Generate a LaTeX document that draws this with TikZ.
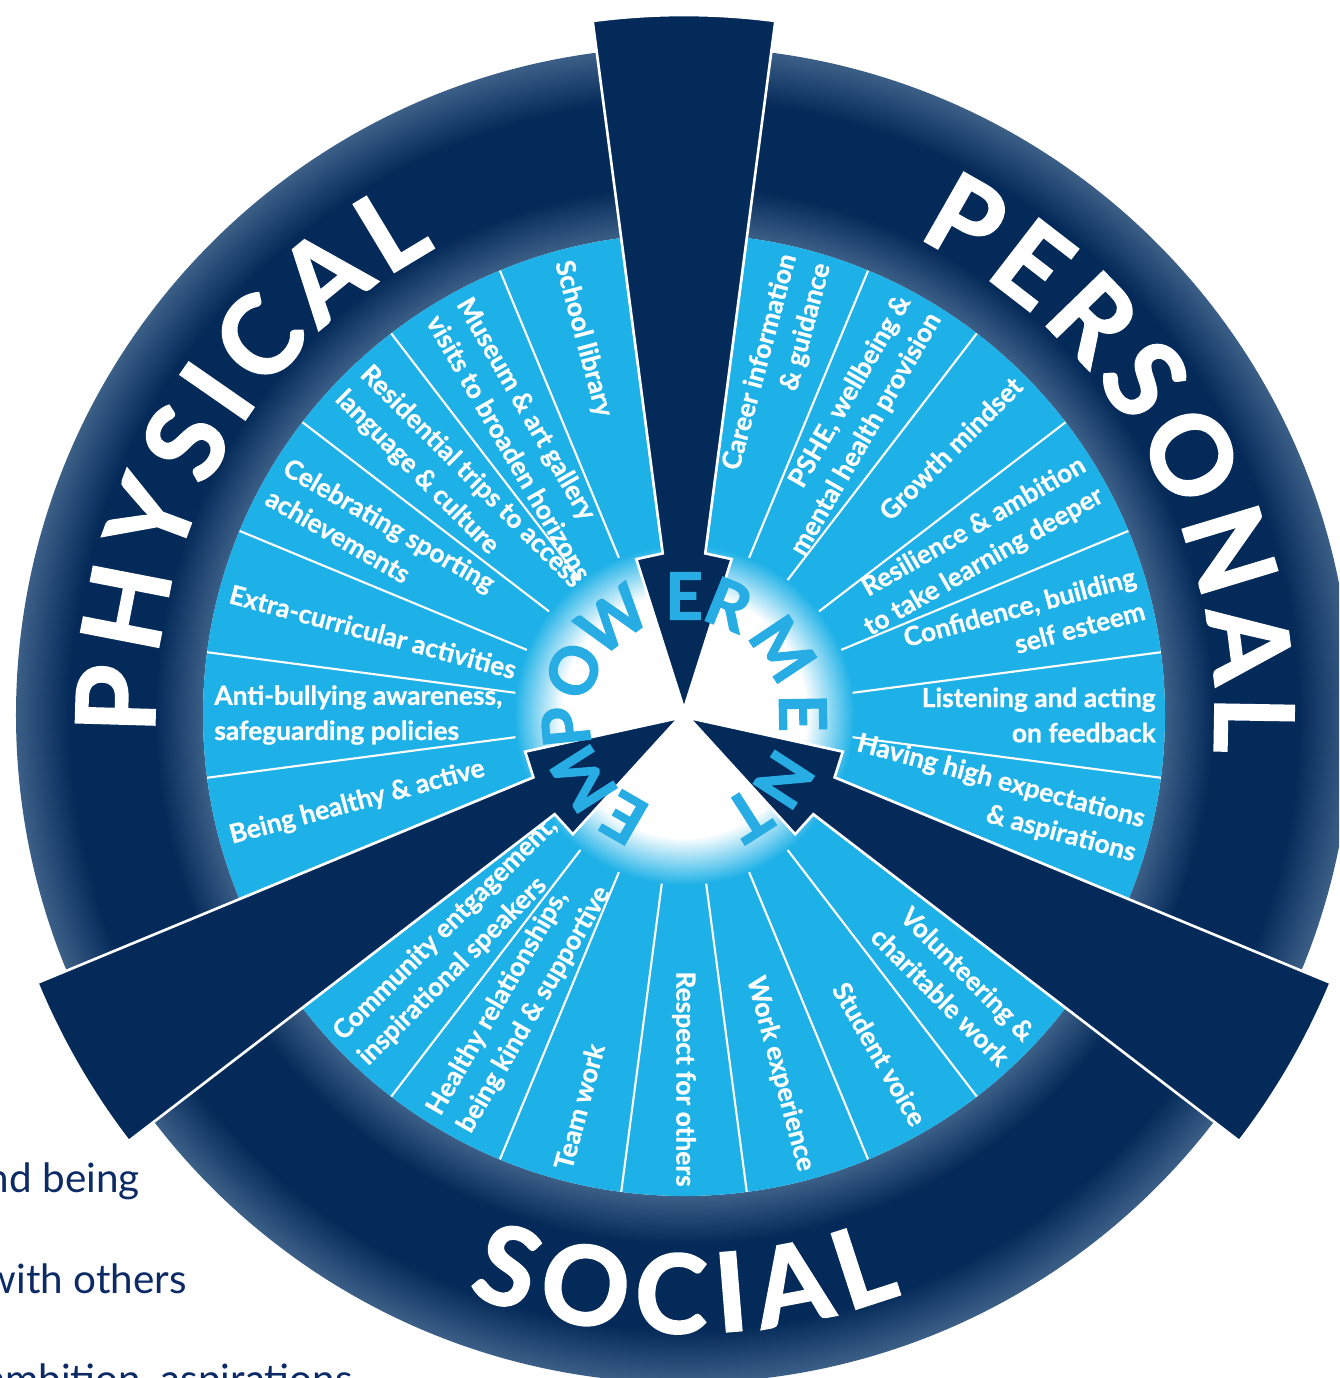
\documentclass[tikz,border=0pt]{standalone}
\usepackage{fontspec}
\setmainfont{Lato}
\newfontface\heavyface{Lato Bold}[FakeBold=2]
\newfontface\itemface{Lato Bold}[FakeBold=0.8]
\usetikzlibrary{decorations.text}
\definecolor{navy}{HTML}{042A59}
\definecolor{ringlight}{HTML}{3C5F87}
\definecolor{skyblue}{HTML}{1EB1E7}
\definecolor{letterblue}{HTML}{27ADE4}
\definecolor{textnavy}{HTML}{0B2A66}
\pgfdeclareradialshading{ringshade}{\pgfpoint{0bp}{0bp}}{color(0bp)=(ringlight); color(18bp)=(ringlight); color(19.8bp)=(navy); color(23bp)=(navy); color(25bp)=(ringlight); color(50bp)=(ringlight)}
\pgfdeclareradialshading{glowshade}{\pgfpoint{0bp}{0bp}}{color(0bp)=(white); color(18bp)=(white); color(25bp)=(skyblue); color(50bp)=(skyblue)}
\def\itemfont{\itemface\fontsize{15}{20}\selectfont}
\def\bigfont{\heavyface\fontsize{62}{62}\selectfont\color{white}}
\tikzset{
  sepline/.style={white, line width=1.2pt},
  item/.style={white, inner sep=0pt, font=\itemfont},
  itemin/.style={item, anchor=west, align=left, rotate=#1-180},
  itemout/.style={item, anchor=east, align=right, rotate=#1},
  pointer/.style={fill=navy, draw=white, line width=1.5pt, line join=miter},
  empletter/.style={letterblue, inner sep=0pt, font=\heavyface\fontsize{37}{37}\selectfont},
  behind/.style={textnavy, inner sep=0pt, anchor=base east, font=\fontsize{23}{23}\selectfont}
}

\begin{document}
\begin{tikzpicture}[x=0.02cm, y=0.02cm]
  %%%%% FRAME %%%%%
  \useasboundingbox (-684,-663) rectangle (655,715);
  \clip (-684,-663) rectangle (655,715);

  % page text behind the wheel
  \node[behind] (being) at (-544,-477) {nd being};
  \node[behind] (others) at (-497,-578) {with others};
  \node[behind] (ambition) at (-331,-678) {ambition, aspirations};

  %%%%% WHEEL %%%%%
  \shade[shading=ringshade, even odd rule] (0,0) circle (668) (0,0) circle (481);
  \fill[skyblue] (0,0) circle (481);
  \foreach \k in {0,...,23}
    \draw[sepline] ({97.5+15*\k}:165) -- ({97.5+15*\k}:481);
  \shade[shading=glowshade] (0,0) circle (170);

  % physical
  \node[itemin=105] (library) at (105:470) {School library};
  \node[itemin=120] (museum) at (120:470) {Museum \& art gallery\\visits to broaden horizons};
  \node[itemin=135] (trips) at (135:470) {Residential trips to access\\language \& culture};
  \node[itemin=150] (sport) at (150:470) {Celebrating sporting\\achievements};
  \node[itemin=165] (extra) at (165:470) {Extra-curricular activities};
  \node[itemin=180] (bullying) at (180:470) {Anti-bullying awareness,\\safeguarding policies};
  \node[itemin=195] (healthy) at (195:470) {Being healthy \& active};

  % personal
  \node[itemout=75] (career) at (75:472) {Career information\\\& guidance};
  \node[itemout=60] (pshe) at (60:472) {PSHE, wellbeing \&\\mental health provision};
  \node[itemout=45] (growth) at (45:472) {Growth mindset};
  \node[itemout=30] (resilience) at (30:472) {Resilience \& ambition\\to take learning deeper};
  \node[itemout=15] (confidence) at (15:472) {Confidence, building\\self esteem};
  \node[itemout=0] (feedback) at (0:472) {Listening and acting\\on feedback};
  \node[itemout=-15] (expect) at (-15:472) {Having high expectations\\\& aspirations};

  % social
  \node[itemin=225] (community) at (225:472) {Community entgagement,\\inspirational speakers};
  \node[itemin=240] (relations) at (240:470) {Healthy relationships,\\being kind \& supportive};
  \node[itemin=255] (team) at (255:470) {Team work};
  \node[itemout=270] (respect) at (270:472) {Respect for others};
  \node[itemout=285] (work) at (285:472) {Work experience};
  \node[itemout=300] (voice) at (300:472) {Student voice};
  \node[itemout=315] (volunteer) at (315:472) {Volunteering \&\\charitable work};

  % three pointers
  \foreach \a in {90,210,330}
    \draw[pointer] ({\a+7.5}:700) arc[start angle=\a+7.5, end angle=\a-7.5, radius=700]
      -- ({\a-7.5}:163) -- ({\a-17}:163) -- (\a:6) -- ({\a+17}:163) -- ({\a+7.5}:163) -- cycle;

  % empowerment
  \foreach \l/\a [count=\i] in {E/240, M/212.5, P/185.7, O/158, W/126.8, E/90, R/68, M/33.7, E/1, N/-33, T/-57.4}
    \node[empletter, rotate=\a-90] (emp\i) at (\a:119) {\l};

  % ring labels
  \path[decorate, decoration={text along path, text={|\bigfont|PHYSICAL}, text align={fit to path}}]
    (182:529) arc[start angle=182, end angle=118, radius=529];
  \path[decorate, decoration={text along path, text={|\bigfont|PERSONAL}, text align={fit to path}}]
    (64:531) arc[start angle=64, end angle=-4, radius=531];
  \path[decorate, decoration={text along path, text={|\bigfont|SOCIAL}, text align={fit to path}}]
    (249.5:618) arc[start angle=249.5, end angle=290.6, radius=618];
\end{tikzpicture}
\end{document}
